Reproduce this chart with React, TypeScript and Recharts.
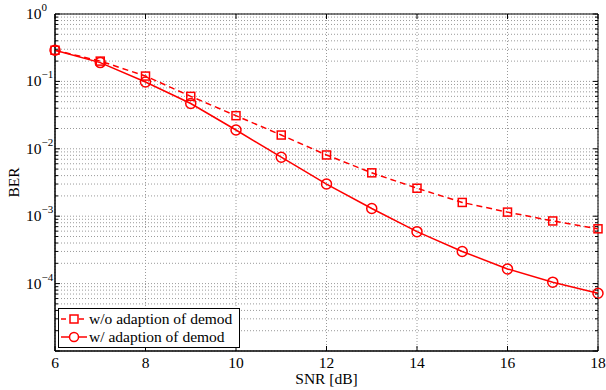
import React from "react";
import {
  LineChart,
  Line,
  XAxis,
  YAxis,
  CartesianGrid,
  ReferenceArea,
  Legend,
  Label,
} from "recharts";

const snr = [6, 7, 8, 9, 10, 11, 12, 13, 14, 15, 16, 17, 18];
const berWithout = [
  0.29, 0.2, 0.12, 0.06, 0.031, 0.016, 0.0081, 0.0044, 0.0026, 0.0016,
  0.00115, 0.00085, 0.00065,
];
const berWith = [
  0.29, 0.19, 0.098, 0.047, 0.019, 0.0075, 0.003, 0.0013, 0.00059, 0.0003,
  0.000165, 0.000105, 0.000072,
];
const xTicks = [6, 8, 10, 12, 14, 16, 18];
const yDecades = [-5, -4, -3, -2, -1, 0];
const yLabelDecades = [-4, -3, -2, -1, 0];
const seriesNames = ["w/o adaption of demod", "w/ adaption of demod"];

const RED = "#ff0000";
const FONT = "'Liberation Serif', 'Times New Roman', Times, serif";

// major + minor ticks for the log axis (labels only on decades)
const yTicks: number[] = [];
yDecades.forEach((e) => {
  if (e === 0) {
    yTicks.push(1);
    return;
  }
  for (let m = 1; m <= 9; m++) yTicks.push(Number((m * Math.pow(10, e)).toPrecision(3)));
});

const data = snr.map((s, i) => ({
  snr: s,
  without: berWithout[i],
  with: berWith[i],
}));

const SquareDot = (props: any) => {
  const { cx, cy, index } = props;
  if (cx == null || cy == null) return <g key={index} />;
  return (
    <rect
      key={index}
      x={cx - 4}
      y={cy - 4}
      width={8}
      height={8}
      fill="none"
      stroke={RED}
      strokeWidth={1.5}
    />
  );
};

const CircleDot = (props: any) => {
  const { cx, cy, index } = props;
  if (cx == null || cy == null) return <g key={index} />;
  return (
    <circle key={index} cx={cx} cy={cy} r={5} fill="none" stroke={RED} strokeWidth={1.5} />
  );
};

const YTick = (props: any) => {
  const { y, payload } = props;
  const v = payload.value;
  const e = Math.round(Math.log10(v));
  const isMajor = Math.abs(v - Math.pow(10, e)) < 1e-12;
  const len = isMajor ? 5 : 3;
  return (
    <g>
      <line x1={55} x2={55 + len} y1={y} y2={y} stroke="#000" />
      <line x1={598 - len} x2={598} y1={y} y2={y} stroke="#000" />
      {isMajor && yLabelDecades.includes(e) && (
        <text x={26} y={y} dy={5} fontSize={15.5} fontFamily={FONT} fill="#000" textAnchor="start">
          10
          <tspan dy={-8} fontSize={11}>
            {e < 0 ? `\u2212${-e}` : `${e}`}
          </tspan>
        </text>
      )}
    </g>
  );
};

const XTick = (props: any) => {
  const { x, payload } = props;
  return (
    <g>
      <line x1={x} x2={x} y1={351} y2={346} stroke="#000" />
      <line x1={x} x2={x} y1={14} y2={19} stroke="#000" />
      <text x={x} y={368} fontSize={15.5} fontFamily={FONT} fill="#000" textAnchor="middle">
        {payload.value}
      </text>
    </g>
  );
};

const LegendBox = () => (
  <div
    style={{
      border: "1px solid #000",
      background: "#fff",
      width: 180,
      height: 38,
      fontFamily: FONT,
      fontSize: 15.5,
      lineHeight: "18px",
      color: "#000",
      boxSizing: "content-box",
    }}
  >
    {seriesNames.map((name, i) => (
      <div key={name} style={{ display: "flex", alignItems: "center", height: 18, marginTop: i === 0 ? 1 : 0 }}>
        <svg width={30} height={18} style={{ display: "block" }}>
          <line
            x1={2}
            x2={28}
            y1={9}
            y2={9}
            stroke={RED}
            strokeWidth={1.5}
            strokeDasharray={i === 0 ? "5 4" : undefined}
          />
          {i === 0 ? (
            <rect x={11} y={5} width={8} height={8} fill="#fff" stroke={RED} strokeWidth={1.5} />
          ) : (
            <circle cx={15} cy={9} r={4.5} fill="#fff" stroke={RED} strokeWidth={1.5} />
          )}
        </svg>
        <span style={{ whiteSpace: "nowrap" }}>{name}</span>
      </div>
    ))}
  </div>
);

export default function App() {
  return (
    <div style={{ position: "absolute", left: 0, top: 0, background: "#fff" }}>
      <LineChart
        width={606}
        height={390}
        data={data}
        margin={{ top: 14, right: 8, left: 0, bottom: 0 }}
      >
        <CartesianGrid stroke="#9a9a9a" strokeDasharray="1 2" strokeWidth={1} />
        <XAxis
          dataKey="snr"
          type="number"
          domain={[6, 18]}
          ticks={xTicks}
          tick={<XTick />}
          tickLine={false}
          axisLine={{ stroke: "#000" }}
          height={39}
          interval={0}
        >
          <Label
            content={(p: any) => {
              const vb = p.viewBox;
              return (
                <text
                  x={vb.x + vb.width / 2}
                  y={384}
                  fontSize={15.5}
                  fontFamily={FONT}
                  textAnchor="middle"
                  fill="#000"
                >
                  SNR [dB]
                </text>
              );
            }}
          />
        </XAxis>
        <YAxis
          scale="log"
          domain={[1e-5, 1]}
          allowDataOverflow
          ticks={yTicks}
          tick={<YTick />}
          tickLine={false}
          axisLine={{ stroke: "#000" }}
          width={55}
          interval={0}
        >
          <Label
            content={(p: any) => {
              const vb = p.viewBox;
              const cy = vb.y + vb.height / 2;
              return (
                <text
                  x={19}
                  y={cy}
                  fontSize={15.5}
                  fontFamily={FONT}
                  textAnchor="middle"
                  fill="#000"
                  transform={`rotate(-90, 19, ${cy})`}
                >
                  BER
                </text>
              );
            }}
          />
        </YAxis>
        <ReferenceArea
          x1={6}
          x2={18}
          y1={1e-5}
          y2={1}
          fill="none"
          stroke="#000"
          strokeWidth={1}
          ifOverflow="visible"
        />
        <Line
          dataKey="without"
          name={seriesNames[0]}
          stroke={RED}
          strokeWidth={1.5}
          strokeDasharray="6 4"
          dot={<SquareDot />}
          type="linear"
          isAnimationActive={false}
        />
        <Line
          dataKey="with"
          name={seriesNames[1]}
          stroke={RED}
          strokeWidth={1.5}
          dot={<CircleDot />}
          type="linear"
          isAnimationActive={false}
        />
        <Legend
          layout="horizontal"
          verticalAlign="middle"
          align="center"
          content={<LegendBox />}
          wrapperStyle={{ position: "absolute", left: 58, top: 308, width: 182, height: 40, bottom: "auto", right: "auto" }}
        />
      </LineChart>
    </div>
  );
}
